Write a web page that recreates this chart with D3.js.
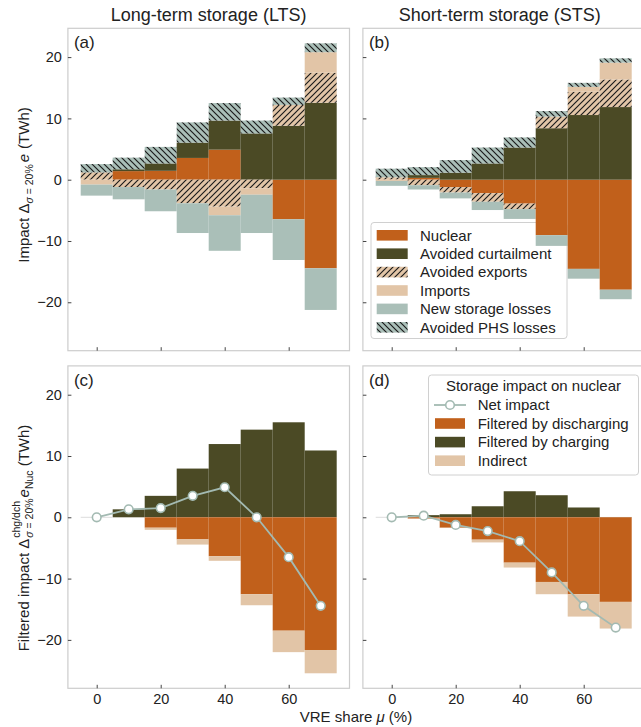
<!DOCTYPE html>
<html>
<head>
<meta charset="utf-8">
<script src="https://cdn.jsdelivr.net/npm/d3@7"></script>
<style>
  body { margin: 0; background: #fff; }
  svg { font-family: "Liberation Sans", Arial, sans-serif; }
  .tick text { fill: #222; }
</style>
</head>
<body>
<div id="chart"></div>
<script>
const width = 641
const height = 727

// VRE share (%) at which each bar is centred
const mu = [0, 10, 20, 30, 40, 50, 60, 70]
const xTicks = [0, 20, 40, 60]
const yTicks = [-20, -10, 0, 10, 20]

// (a) long-term storage, TWh
const nuclearA = [0, 1.4, 1.45, 3.55, 4.9, 0, -6.45, -14.45]
const curtailA = [0, 0.3, 1.2, 2.5, 4.75, 7.55, 8.8, 12.55]
const exportsA = [1.2, -1.2, -1.6, -3.85, -4.4, -1.4, 3.4, 4.9]
const importsA = [-0.8, 0, 0, 0, -1.4, -1.05, 0, 3.35]
const lossesA = [-1.8, -2.0, -3.55, -4.85, -5.8, -6.25, -6.65, -6.8]
const phsA = [1.35, 1.9, 2.7, 3.3, 2.85, 2.1, 1.2, 1.45]

// (b) short-term storage, TWh
const nuclearB = [0.05, 0.3, -1.2, -2.2, -3.9, -9.05, -14.55, -17.95]
const curtailB = [0, 0.45, 1.15, 2.65, 5.25, 8.4, 10.55, 11.85]
const exportsB = [0.35, -0.9, -0.9, -1.4, -0.9, 1.9, 3.8, 4.5]
const importsB = [-0.2, 0, 0, 0, 0, 0, 0.8, 2.75]
const lossesB = [-0.8, -0.7, -0.95, -1.35, -1.6, -1.75, -1.6, -1.55]
const phsB = [1.4, 1.3, 2.05, 2.6, 1.65, 0.9, 0.65, 0.7]

// (c) filtered impact on nuclear, LTS
const chargingC = [0, 1.3, 3.5, 7.95, 11.95, 14.3, 15.5, 10.9]
const dischargingC = [0, 0, -1.7, -3.6, -6.35, -12.55, -18.5, -21.65]
const indirectC = [0, 0, -0.35, -0.85, -0.75, -1.8, -3.5, -3.8]
const netC = [0, 1.3, 1.5, 3.5, 4.9, 0, -6.5, -14.45]

// (d) filtered impact on nuclear, STS
const chargingD = [0, 0.35, 0.5, 1.8, 4.25, 3.6, 1.6, 0.05]
const dischargingD = [0, -0.2, -1.7, -3.65, -7.4, -10.55, -12.55, -13.8]
const indirectD = [0, 0, -0.05, -0.45, -0.8, -2.0, -3.65, -4.35]
const netD = [0, 0.27, -1.25, -2.25, -3.9, -9.0, -14.45, -18.0]

const col = {
    orange: "#c1601b",
    olive: "#4b4a25",
    beige: "#e2c5a7",
    teal: "#aabfb8",
    net: "#a3bab2",
    frame: "#cccccc",
    text: "#222222"
}

const svg = d3.select("div#chart").append("svg").attr("width", width).attr("height", height)

// hatch patterns
const defs = svg.append("defs")
function hatch(id, bg, d) {
    const p = defs.append("pattern").attr("id", id).attr("patternUnits", "userSpaceOnUse")
        .attr("width", 6).attr("height", 6)
    p.append("rect").attr("width", 6).attr("height", 6).attr("fill", bg)
    p.append("path").attr("d", d).attr("stroke", "#1a1a1a").attr("stroke-width", 1.15)
}
hatch("hExp", col.beige, "M0,6L6,0M-1.5,1.5L1.5,-1.5M4.5,7.5L7.5,4.5")
hatch("hPhs", col.teal, "M0,0L6,6M-1.5,4.5L1.5,7.5M4.5,-1.5L7.5,1.5")

const x1 = d3.scaleLinear().domain([-9, 79]).range([67.9, 349.5])
const x2 = d3.scaleLinear().domain([-9, 79]).range([362.9, 644.5])
const yTop = d3.scaleLinear().domain([-27.9, 24.7]).range([350.7, 28.3])
const yBot = d3.scaleLinear().domain([-27.9, 24.7]).range([688.3, 365.9])

// legend (b) sits underneath the bars
const legB = [
    { name: "Nuclear", fill: col.orange },
    { name: "Avoided curtailment", fill: col.olive },
    { name: "Avoided exports", fill: "url(#hExp)" },
    { name: "Imports", fill: col.beige },
    { name: "New storage losses", fill: col.teal },
    { name: "Avoided PHS losses", fill: "url(#hPhs)" }
]
const lb = svg.append("g")
lb.append("rect").attr("x", 371).attr("y", 222.5).attr("width", 196).attr("height", 116).attr("rx", 3)
    .attr("fill", "#fff").attr("stroke", "#d0d0d0")
legB.forEach((d, i) => {
    const cy = 235.3 + i * 18.4
    lb.append("rect").attr("x", 376.7).attr("y", cy - 5.3).attr("width", 31).attr("height", 10.6).attr("fill", d.fill)
    lb.append("text").attr("x", 420).attr("y", cy + 5.3).attr("font-size", 15).attr("fill", col.text).text(d.name)
})

const seriesA = [
    { v: nuclearA, fill: col.orange }, { v: curtailA, fill: col.olive },
    { v: exportsA, fill: "url(#hExp)" }, { v: importsA, fill: col.beige },
    { v: lossesA, fill: col.teal }, { v: phsA, fill: "url(#hPhs)" }
]
const seriesB = [
    { v: nuclearB, fill: col.orange }, { v: curtailB, fill: col.olive },
    { v: exportsB, fill: "url(#hExp)" }, { v: importsB, fill: col.beige },
    { v: lossesB, fill: col.teal }, { v: phsB, fill: "url(#hPhs)" }
]
const seriesC = [
    { v: chargingC, fill: col.olive }, { v: dischargingC, fill: col.orange }, { v: indirectC, fill: col.beige }
]
const seriesD = [
    { v: chargingD, fill: col.olive }, { v: dischargingD, fill: col.orange }, { v: indirectD, fill: col.beige }
]

const panels = [
    { x: x1, y: yTop, label: "(a)", series: seriesA, xLab: false, yLab: true },
    { x: x2, y: yTop, label: "(b)", series: seriesB, xLab: false, yLab: false },
    { x: x1, y: yBot, label: "(c)", series: seriesC, net: netC, xLab: true, yLab: true },
    { x: x2, y: yBot, label: "(d)", series: seriesD, net: netD, xLab: true, yLab: false }
]

panels.forEach(p => {
    const g = svg.append("g")
    // stack positives and negatives separately
    const rects = []
    mu.forEach((m, i) => {
        let pos = 0, neg = 0
        p.series.forEach(s => {
            const v = s.v[i]
            if (v === 0) return
            let y0, y1
            if (v > 0) { y0 = pos; y1 = pos + v; pos = y1 } else { y0 = neg; y1 = neg + v; neg = y1 }
            rects.push({ m: m, lo: Math.min(y0, y1), hi: Math.max(y0, y1), fill: s.fill })
        })
    })
    g.selectAll("rect.bar").data(rects).enter().append("rect")
        .attr("class", "bar")
        .attr("x", d => p.x(d.m - 5))
        .attr("width", d => p.x(d.m + 5) - p.x(d.m - 5))
        .attr("y", d => p.y(d.hi))
        .attr("height", d => p.y(d.lo) - p.y(d.hi))
        .attr("fill", d => d.fill)

    if (p.net) {
        g.append("line").attr("x1", p.x(-5)).attr("x2", p.x(5)).attr("y1", p.y(0)).attr("y2", p.y(0))
            .attr("stroke", "#dcdcdc").attr("stroke-width", 1)
        const line = d3.line().x((d, i) => p.x(mu[i])).y(d => p.y(d))
        g.append("path").attr("d", line(p.net)).attr("fill", "none")
            .attr("stroke", col.net).attr("stroke-width", 1.8)
        g.selectAll("circle").data(p.net).enter().append("circle")
            .attr("cx", (d, i) => p.x(mu[i])).attr("cy", d => p.y(d)).attr("r", 4.3)
            .attr("fill", "#fff").attr("stroke", col.net).attr("stroke-width", 1.6)
    }

    const [xl, xr] = p.x.range()
    const [yb, yt] = p.y.range()
    g.append("rect").attr("x", xl).attr("y", yt).attr("width", xr - xl).attr("height", yb - yt)
        .attr("fill", "none").attr("stroke", col.frame).attr("stroke-width", 1.2)

    const xAxis = d3.axisBottom(p.x).tickValues(xTicks).tickSizeInner(-3.5).tickSizeOuter(0).tickPadding(5)
    if (!p.xLab) xAxis.tickFormat("")
    const xg = g.append("g").attr("transform", `translate(0, ${yb})`).call(xAxis)
    const yAxis = d3.axisLeft(p.y).tickValues(yTicks).tickSizeInner(-3.5).tickSizeOuter(0).tickPadding(6)
    if (!p.yLab) yAxis.tickFormat("")
    const yg = g.append("g").attr("transform", `translate(${xl}, 0)`).call(yAxis)
    ;[xg, yg].forEach(a => {
        a.select(".domain").remove()
        a.selectAll(".tick line").attr("stroke", "#444").attr("stroke-width", 1)
        a.selectAll(".tick text").attr("font-size", 14.5).attr("font-family", "Liberation Sans, Arial, sans-serif")
    })

    g.append("text").attr("x", xl + 6).attr("y", yt + 20).attr("font-size", 17)
        .attr("fill", col.text).text(p.label)
})

// column titles
svg.append("text").attr("x", (x1.range()[0] + x1.range()[1]) / 2).attr("y", 21).attr("text-anchor", "middle")
    .attr("font-size", 18).attr("fill", col.text).text("Long-term storage (LTS)")
svg.append("text").attr("x", (x2.range()[0] + x2.range()[1]) / 2 - 4).attr("y", 21).attr("text-anchor", "middle")
    .attr("font-size", 18).attr("fill", col.text).text("Short-term storage (STS)")

// x label
svg.append("text").attr("x", 356).attr("y", 722).attr("text-anchor", "middle").attr("font-size", 15)
    .attr("fill", col.text)
    .call(t => {
        t.append("tspan").text("VRE share ")
        t.append("tspan").attr("font-style", "italic").text("μ")
        t.append("tspan").text(" (%)")
    })

// rotated labels with sub/superscripts laid out piece by piece
function mathLabel(cx, cy, parts) {
    const g = svg.append("g").attr("transform", `translate(${cx}, ${cy}) rotate(-90)`)
    const inner = g.append("g")
    let cursor = 0, prevStart = 0
    parts.forEach(p => {
        const start = (p.stack ? prevStart : cursor) + (p.dx || 0)
        const t = inner.append("text").attr("x", start).attr("y", p.dy || 0)
            .attr("font-size", p.size || 15).attr("fill", col.text)
        p.segs.forEach(s => t.append("tspan").attr("font-style", s[1] ? "italic" : null).text(s[0]))
        const end = start + t.node().getComputedTextLength()
        if (p.stack) { cursor = Math.max(cursor, end) } else { prevStart = start; cursor = end }
    })
    inner.attr("transform", `translate(${-cursor / 2}, 0)`)
}

mathLabel(29, 185, [
    { segs: [["Impact Δ", false]] },
    { segs: [["σ", true], [" = 20%", false]], size: 10.5, dy: 4 },
    { segs: [["e", true]], dx: 2 },
    { segs: [["(TWh)", false]], dx: 5 }
])
mathLabel(29, 538, [
    { segs: [["Filtered impact Δ", false]] },
    { segs: [["chg/dch", false]], size: 10.5, dy: -9, dx: 1 },
    { segs: [["σ", true], [" = 20%", false]], size: 10.5, dy: 4, stack: true },
    { segs: [["e", true]], dx: 1 },
    { segs: [["Nuc", false]], size: 10.5, dy: 4 },
    { segs: [["(TWh)", false]], dx: 4 }
])

// legend (d)
const ld = svg.append("g")
ld.append("rect").attr("x", 428.5).attr("y", 375).attr("width", 210).attr("height", 100).attr("rx", 3)
    .attr("fill", "rgba(255,255,255,0.8)").attr("stroke", "#d0d0d0")
ld.append("text").attr("x", 533.5).attr("y", 391).attr("text-anchor", "middle").attr("font-size", 15)
    .attr("fill", col.text).text("Storage impact on nuclear")
ld.append("line").attr("x1", 434).attr("x2", 466).attr("y1", 405).attr("y2", 405)
    .attr("stroke", col.net).attr("stroke-width", 1.8)
ld.append("circle").attr("cx", 450).attr("cy", 405).attr("r", 4.3).attr("fill", "#fff")
    .attr("stroke", col.net).attr("stroke-width", 1.6)
ld.append("text").attr("x", 477.7).attr("y", 410.3).attr("font-size", 15).attr("fill", col.text).text("Net impact")
const legD = [
    { name: "Filtered by discharging", fill: col.orange },
    { name: "Filtered by charging", fill: col.olive },
    { name: "Indirect", fill: col.beige }
]
legD.forEach((d, i) => {
    const cy = 423.5 + i * 18.6
    ld.append("rect").attr("x", 435).attr("y", cy - 5.3).attr("width", 30).attr("height", 10.6).attr("fill", d.fill)
    ld.append("text").attr("x", 477.7).attr("y", cy + 5.3).attr("font-size", 15).attr("fill", col.text).text(d.name)
})
</script>
</body>
</html>
